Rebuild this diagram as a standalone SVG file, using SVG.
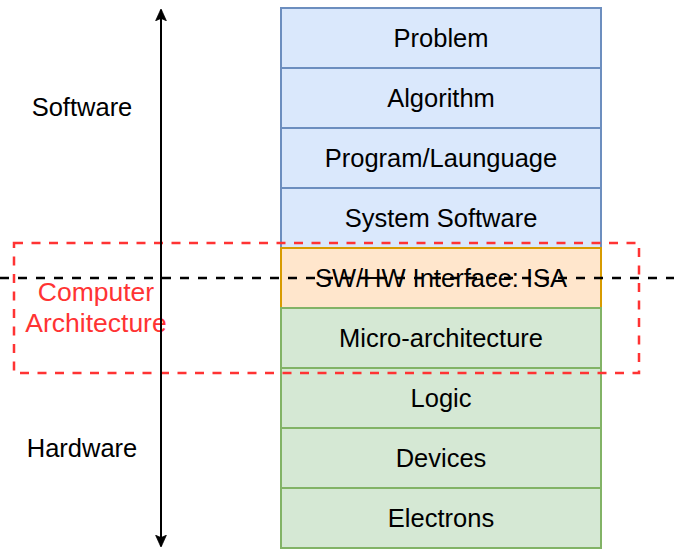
<svg xmlns="http://www.w3.org/2000/svg" width="674" height="558" viewBox="0 0 674 558">
<style>
text{font-family:"Liberation Sans",Arial,sans-serif;font-size:25.5px;text-anchor:middle;dominant-baseline:central;fill:#000}
.sw{fill:#dae8fc;stroke:#6c8ebf;stroke-width:2}
.isa{fill:#ffe6cc;stroke:#d79b00;stroke-width:2}
.hw{fill:#d5e8d4;stroke:#82b366;stroke-width:2}
.red{fill:#FF3333;font-size:26.5px}
</style>
<defs>
<marker id="ah" viewBox="0 0 10 10" refX="9" refY="5" markerWidth="6" markerHeight="6" orient="auto-start-reverse" markerUnits="strokeWidth">
<path d="M0,0.5 L10,5 L0,9.5 L2,5 z" fill="#000" stroke="#000" stroke-width="0.6" stroke-linejoin="miter"/>
</marker>
</defs>
<g id="problem"><rect class="sw" x="281" y="8" width="320" height="60"/><text x="441" y="38">Problem</text></g>
<g id="algorithm"><rect class="sw" x="281" y="68" width="320" height="60"/><text x="441" y="98">Algorithm</text></g>
<g id="program"><rect class="sw" x="281" y="128" width="320" height="60"/><text x="441" y="158">Program/Launguage</text></g>
<g id="syssoft"><rect class="sw" x="281" y="188" width="320" height="60"/><text x="441" y="218">System Software</text></g>
<g id="isa"><rect class="isa" x="281" y="248" width="320" height="60"/><text x="441" y="278">SW/HW Interface: ISA</text></g>
<g id="micro"><rect class="hw" x="281" y="308" width="320" height="60"/><text x="441" y="338">Micro-architecture</text></g>
<g id="logic"><rect class="hw" x="281" y="368" width="320" height="60"/><text x="441" y="398">Logic</text></g>
<g id="devices"><rect class="hw" x="281" y="428" width="320" height="60"/><text x="441" y="458">Devices</text></g>
<g id="electrons"><rect class="hw" x="281" y="488" width="320" height="60"/><text x="441" y="518">Electrons</text></g>
<g id="software-label"><text x="82" y="107">Software</text></g>
<g id="hardware-label"><text x="82" y="448">Hardware</text></g>
<g id="comparch">
<rect x="14" y="243" width="625" height="130" fill="none" stroke="#FF3333" stroke-width="2.5" stroke-dasharray="9 8.5"/>
<text class="red" x="96" y="292">Computer</text>
<text class="red" x="96" y="323">Architecture</text>
</g>
<g id="connectors">
<line x1="161" y1="10" x2="161" y2="546" stroke="#000" stroke-width="2" marker-start="url(#ah)" marker-end="url(#ah)"/>
<line x1="0" y1="278" x2="674" y2="278" stroke="#000" stroke-width="2.5" stroke-dasharray="9 9"/>
</g>
</svg>
